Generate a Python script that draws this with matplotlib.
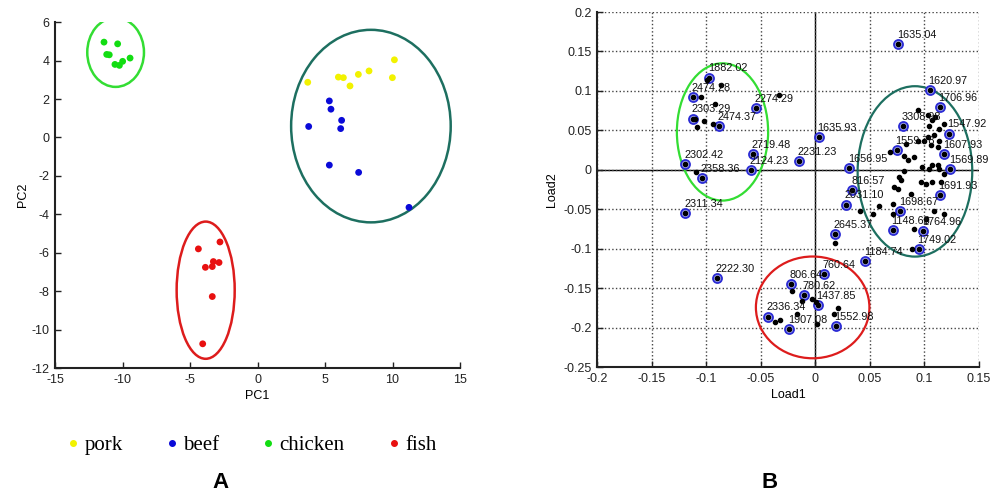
import matplotlib
matplotlib.use('Agg')
import matplotlib.pyplot as plt
from matplotlib.patches import Ellipse
from matplotlib.lines import Line2D
from matplotlib.ticker import FuncFormatter

# ---- Panel A: PCA scores ----
pork_x = [3.72, 5.99, 6.36, 6.85, 7.47, 8.26, 9.99, 10.14]
pork_y = [2.87, 3.14, 3.11, 2.68, 3.28, 3.46, 3.11, 4.04]
beef_x = [5.32, 5.44, 6.23, 6.16, 3.79, 5.32, 7.49, 11.22]
beef_y = [1.90, 1.47, 0.89, 0.46, 0.57, -1.44, -1.82, -3.64]
chicken_x = [-11.37, -10.36, -11.17, -10.98, -10.56, -10.23, -9.99, -9.44]
chicken_y = [4.96, 4.87, 4.32, 4.30, 3.80, 3.75, 3.96, 4.13]
fish_x = [-4.38, -2.78, -3.86, -3.35, -3.27, -2.85, -3.35, -4.06]
fish_y = [-5.80, -5.44, -6.76, -6.72, -6.46, -6.51, -8.28, -10.74]

groups = ['pork', 'beef', 'chicken', 'fish']
group_colors = ['#f2f200', '#0a0ad8', '#12dd12', '#e81010']

# ellipses A: center x, center y, width, height
ellA_green = (-10.51, 4.43, 4.2, 3.6)
ellA_teal = (8.40, 0.59, 11.82, 10.02)
ellA_red = (-3.84, -7.95, 4.3, 7.14)

# ---- Panel B: loadings ----
lab_names = ['1635.04', '1882.02', '2474.28', '2303.29', '2474.37', '2274.29',
             '2719.48', '2124.23', '2302.42', '2358.36', '2311.34', '2231.23',
             '1635.93', '1656.95', '1620.97', '1706.96', '3308.98', '1547.92',
             '1559.78', '1607.93', '1569.89', '1691.93', '816.57', '2031.10',
             '1698.67', '1148.68', '1764.96', '2645.37', '1749.02', '1184.74',
             '2222.30', '760.64', '806.64', '780.62', '1437.85', '2336.34',
             '1907.08', '1552.98']
lab_x = [0.076, -0.097, -0.112, -0.112, -0.088, -0.054,
         -0.0575, -0.059, -0.119, -0.104, -0.119, -0.015,
         0.003, 0.031, 0.105, 0.114, 0.0805, 0.1225,
         0.0745, 0.118, 0.1235, 0.114, 0.034, 0.028,
         0.078, 0.071, 0.099, 0.018, 0.095, 0.0456,
         -0.0897, 0.0076, -0.022, -0.010, 0.0024, -0.043,
         -0.024, 0.019]
lab_y = [0.159, 0.117, 0.092, 0.065, 0.055, 0.078,
         0.0195, 0.0, 0.007, -0.011, -0.055, 0.011,
         0.0415, 0.002, 0.101, 0.080, 0.0555, 0.046,
         0.0255, 0.0195, 0.001, -0.0325, -0.026, -0.044,
         -0.0525, -0.076, -0.078, -0.081, -0.101, -0.116,
         -0.137, -0.132, -0.145, -0.159, -0.171, -0.186,
         -0.2015, -0.1985]

# unlabeled variables (small black dots)
dot_x = [-0.092, -0.102, -0.108, -0.094, -0.110, -0.086, -0.099, -0.033, -0.109, -0.105,
         0.0945, 0.103, 0.107, 0.110, 0.104, 0.113, 0.118, 0.109, 0.103, 0.113,
         0.106, 0.112, 0.100, 0.094, 0.083, 0.068, 0.0815, 0.0845, 0.0906, 0.098,
         0.107, 0.112, 0.113, 0.104, 0.118, 0.097, 0.101, 0.107, 0.115, 0.0815,
         0.077, 0.0784, 0.0723, 0.0754, 0.0875, 0.0587, 0.0708, 0.0708, 0.109, 0.118,
         0.101, 0.0906, 0.041, 0.0526, 0.089,
         0.018, -0.021, -0.012, -0.003, 0.001, 0.0204, 0.0167, -0.0167, -0.037, -0.0325, 0.0015]
dot_y = [0.084, 0.062, 0.054, 0.058, 0.064, 0.107, 0.114, 0.095, -0.003, 0.092,
         0.076, 0.069, 0.063, 0.067, 0.056, 0.052, 0.058, 0.044, 0.0415, 0.037,
         0.031, 0.029, 0.037, 0.037, 0.033, 0.022, 0.018, 0.012, 0.016, 0.0034,
         0.0055, 0.0055, 0.001, 0.001, -0.005, -0.016, -0.018, -0.016, -0.016, -0.001,
         -0.009, -0.0135, -0.022, -0.024, -0.0305, -0.0453, -0.043, -0.056, -0.052, -0.056,
         -0.062, -0.075, -0.0525, -0.056, -0.100,
         -0.093, -0.153, -0.166, -0.164, -0.167, -0.175, -0.183, -0.183, -0.193, -0.190, -0.195]

ellB_green = (-0.085, 0.048, 0.0836, 0.174)
ellB_teal = (0.0913, -0.002, 0.105, 0.216)
ellB_red = (-0.0024, -0.1744, 0.104, 0.129)

green_c = '#33dd33'
teal_c = '#1d6f60'
red_c = '#dd1c1c'

plt.rcParams['font.family'] = ['Liberation Sans', 'DejaVu Sans']
plt.rcParams['axes.unicode_minus'] = False

fig = plt.figure(figsize=(9.91, 4.92), dpi=100)
axA = fig.add_axes([0.0555, 0.252, 0.4087, 0.703])
axB = fig.add_axes([0.6024, 0.254, 0.3855, 0.7215])

# panel A
xs = [pork_x, beef_x, chicken_x, fish_x]
ys = [pork_y, beef_y, chicken_y, fish_y]
for gx, gy, c in zip(xs, ys, group_colors):
    axA.scatter(gx, gy, s=24, color=c, edgecolors='none', zorder=3)

for e, c in [(ellA_green, green_c), (ellA_teal, teal_c), (ellA_red, red_c)]:
    axA.add_patch(Ellipse((e[0], e[1]), e[2], e[3], fill=False, edgecolor=c, lw=1.8))

axA.set_xlim(-15, 15)
axA.set_ylim(-12, 6)
axA.set_xticks(range(-15, 16, 5))
axA.set_yticks(range(-12, 7, 2))
axA.set_xlabel('PC1', fontsize=9, labelpad=3)
axA.set_ylabel('PC2', fontsize=9, labelpad=2)

# panel B
axB.grid(True, linestyle=':', color='#444444', lw=1.0)
axB.axhline(0, color='black', lw=1.0, zorder=1)
axB.axvline(0, color='black', lw=1.0, zorder=1)
axB.scatter(lab_x, lab_y, s=42, facecolor='#a9aeee', edgecolors='#2a2ad4', linewidths=1.3, zorder=3)
axB.scatter(lab_x, lab_y, s=9, color='black', zorder=4)
axB.scatter(dot_x, dot_y, s=9, color='black', zorder=4)
for name, x, y in zip(lab_names, lab_x, lab_y):
    axB.annotate(name, (x, y), xytext=(-1, 3), textcoords='offset points',
                 ha='left', va='bottom', fontsize=7.8, color='#111111', zorder=5)

for e, c in [(ellB_green, green_c), (ellB_teal, teal_c), (ellB_red, red_c)]:
    axB.add_patch(Ellipse((e[0], e[1]), e[2], e[3], fill=False, edgecolor=c, lw=1.6, zorder=2))

axB.set_xlim(-0.2, 0.15)
axB.set_ylim(-0.25, 0.2)
axB.set_xticks([-0.2, -0.15, -0.1, -0.05, 0, 0.05, 0.1, 0.15])
axB.set_yticks([-0.25, -0.2, -0.15, -0.1, -0.05, 0, 0.05, 0.1, 0.15, 0.2])
fmt = FuncFormatter(lambda v, p: '%g' % round(v, 3))
axB.xaxis.set_major_formatter(fmt)
axB.yaxis.set_major_formatter(fmt)
axB.set_xlabel('Load1', fontsize=9, labelpad=3)
axB.set_ylabel('Load2', fontsize=9, labelpad=4)

for ax in [axA, axB]:
    ax.spines['top'].set_visible(False)
    ax.spines['right'].set_visible(False)
    ax.spines['left'].set_linewidth(1.5)
    ax.spines['bottom'].set_linewidth(1.5)
    ax.spines['left'].set_color('#222222')
    ax.spines['bottom'].set_color('#222222')
    ax.tick_params(direction='in', length=4, width=1, labelsize=9, colors='#222222', pad=4)

# legend for panel A
handles = [Line2D([], [], marker='o', ls='none', markersize=4, color=c) for c in group_colors]
fig.legend(handles, groups, ncol=4, loc='center', bbox_to_anchor=(0.254, 0.0955),
           frameon=False, prop={'family': 'Liberation Serif', 'size': 15},
           handlelength=0.6, handletextpad=0.25, columnspacing=2.05)

fig.text(0.222, 0.0183, 'A', fontsize=16, fontweight='bold', ha='center', va='center')
fig.text(0.777, 0.0183, 'B', fontsize=16, fontweight='bold', ha='center', va='center')

fig.savefig('out.png', dpi=100)
